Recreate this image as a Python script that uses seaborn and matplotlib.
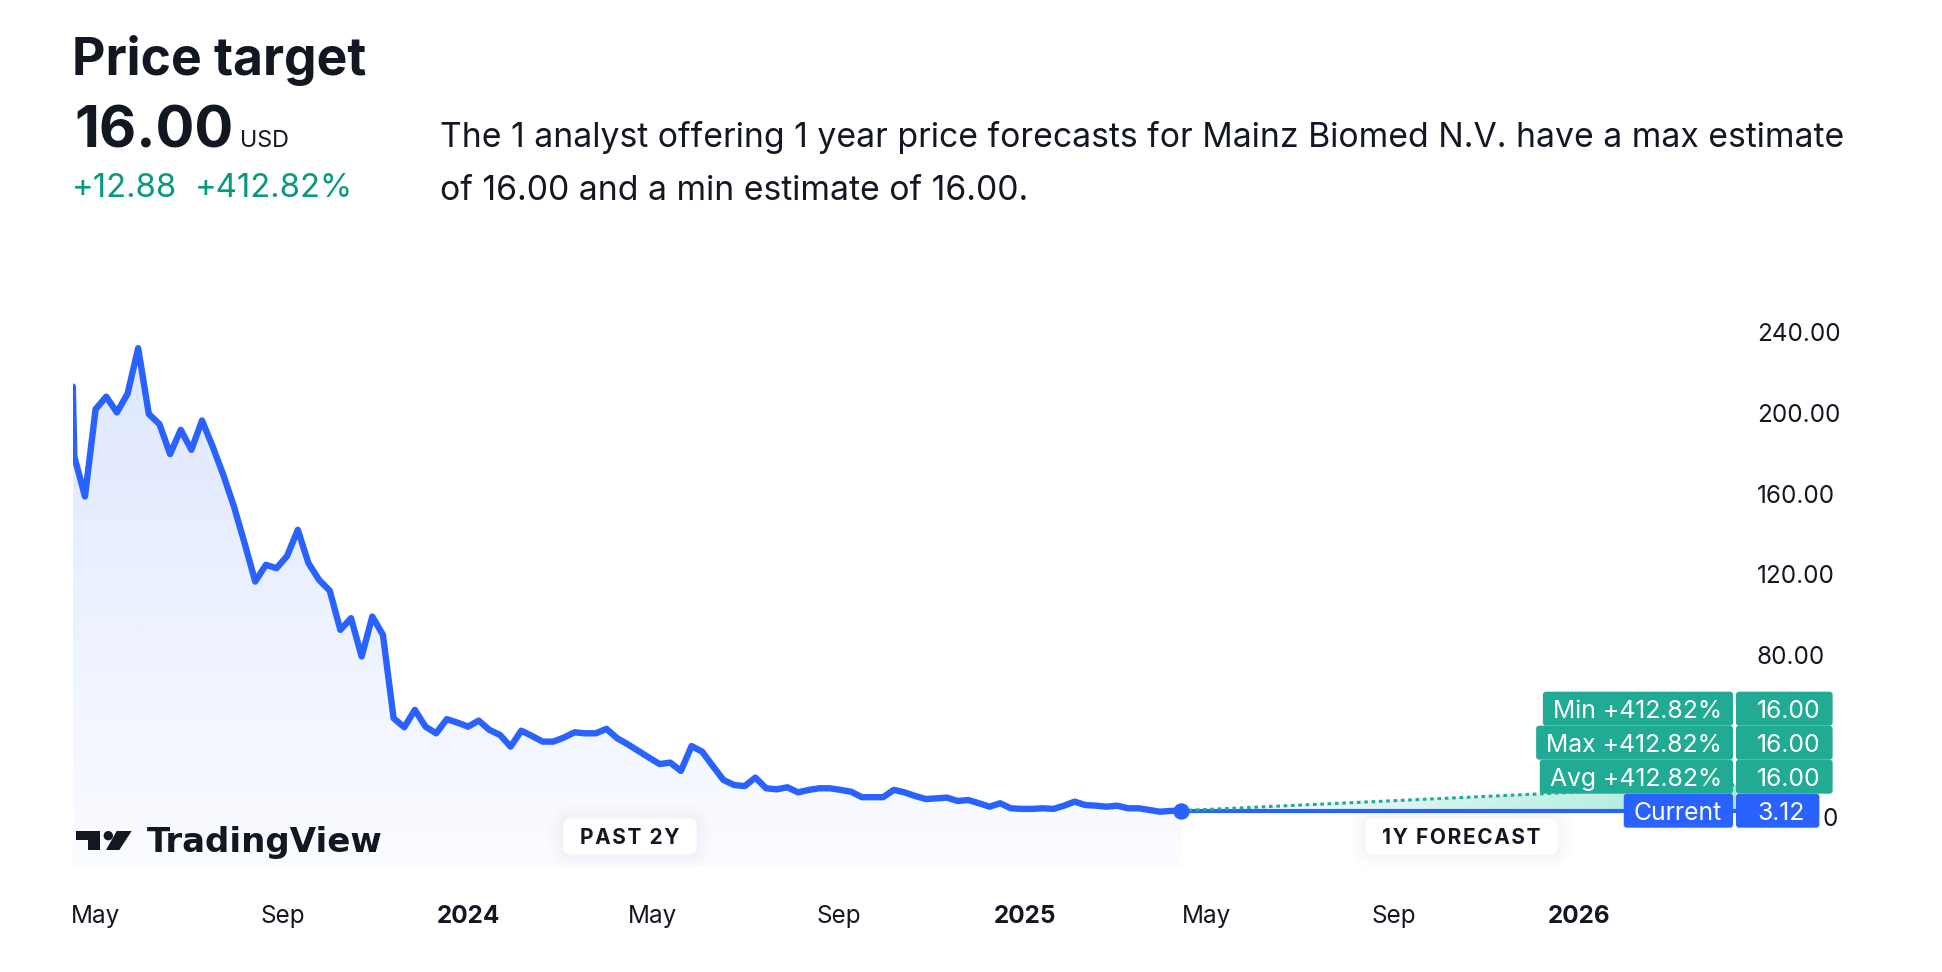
import matplotlib
matplotlib.use("Agg")
import numpy as np
import pandas as pd
import seaborn as sns
from matplotlib import pyplot as plt
import matplotlib.dates as mdates
from matplotlib.patches import FancyBboxPatch, Rectangle, Circle, Polygon
from matplotlib.transforms import IdentityTransform
from matplotlib.colors import to_rgb

# ---- data ----
first_date = "2023-04-16"
first_price = 213.0
week_start = "2023-04-17"
weekly_prices = [
    178.4, 158.6, 201.8, 208.0, 200.2, 209.4, 232.0, 199.4, 194.4, 179.6,
    191.6, 181.7, 196.2, 183.3, 169.3, 153.6, 135.5, 116.5, 124.8, 123.1,
    129.2, 142.1, 125.6, 117.3, 112.0, 92.6, 98.4, 79.4, 99.2, 90.1,
    48.9, 44.4, 53.0, 44.7, 41.4, 48.4, 46.7, 44.7, 47.7, 43.1,
    40.6, 34.8, 42.7, 40.1, 37.3, 37.3, 39.3, 41.9, 41.4, 41.4,
    43.6, 39.0, 36.0, 32.7, 29.4, 26.2, 26.9, 22.8, 35.1, 32.3,
    25.2, 18.3, 15.8, 15.3, 19.5, 14.2, 13.7, 14.7, 12.2, 13.4,
    14.2, 14.2, 13.4, 12.5, 9.8, 9.8, 9.8, 13.4, 12.2, 10.4,
    8.9, 9.2, 9.6, 7.9, 8.4, 6.8, 5.1, 6.8, 4.3, 4.0,
    4.0, 4.3, 4.0, 5.6, 7.6, 5.9, 5.6, 5.1, 5.6, 4.3,
    4.3, 3.5, 2.6, 3.0, 3.12,
]
target_names = ["Min", "Max", "Avg"]
target_values = [16.00, 16.00, 16.00]
tick_dates = ["2023-05-01", "2023-09-01", "2024-01-01", "2024-05-01", "2024-09-01",
              "2025-01-01", "2025-05-01", "2025-09-01", "2026-01-01"]
tick_labels = ["May", "Sep", "2024", "May", "Sep", "2025", "May", "Sep", "2026"]
y_ticks = [0, 40, 80, 120, 160, 200, 240]
company = "Mainz Biomed N.V."
n_analysts = 1

blue = "#2962ff"
teal = "#22ab94"
green_txt = "#089981"
ink = "#131722"

sns.set_theme(style="white")
plt.rcParams["font.family"] = ["Inter", "DejaVu Sans"]

dates = [pd.Timestamp(first_date)] + list(pd.date_range(week_start, periods=len(weekly_prices), freq="7D"))
df = pd.DataFrame({"date": dates, "price": [first_price] + weekly_prices})
current = weekly_prices[-1]
avg_target = target_values[2]
end_date = df["date"].iloc[-1] + pd.DateOffset(years=1)
change = avg_target - current
change_pct = change / current * 100

W, H = 1942, 972
fig = plt.figure(figsize=(W / 100, H / 100), dpi=100)
fig.patch.set_facecolor("white")


def fx(x):
    return x / W


def fy(y):
    return 1 - y / H


ax = fig.add_axes([fx(72.8), fy(867.5), fx(1736) - fx(72.8), fy(311.8) - fy(867.5)])
ax.set_facecolor("none")

base = -25
xn = mdates.date2num(df["date"])
x_end = mdates.date2num(end_date)

sns.lineplot(data=df, x="date", y="price", ax=ax, color=blue, lw=4.6, zorder=5,
             solid_joinstyle="round")

# gradient under the history
area = ax.fill_between(xn, df["price"], base, facecolor="none", edgecolor="none")
ramp = np.zeros((256, 1, 4))
ramp[..., :3] = to_rgb(blue)
ramp[..., 3] = np.linspace(0.02, 0.16, 256)[:, None]
img = ax.imshow(ramp, extent=[xn[0], xn[-1], base, 240], origin="lower",
                aspect="auto", interpolation="bilinear", zorder=1)
img.set_clip_path(area.get_paths()[0], transform=ax.transData)

# forecast wedge
tri = Polygon([[xn[-1], current], [x_end, avg_target], [x_end, current]],
              closed=True, facecolor="none", edgecolor="none")
ax.add_patch(tri)
hramp = np.zeros((1, 256, 4))
hramp[..., :3] = to_rgb("#a6e9d9")
hramp[..., 3] = np.linspace(0.0, 1.0, 256)[None, :]
img2 = ax.imshow(hramp, extent=[xn[-1], x_end, current, avg_target], origin="lower",
                 aspect="auto", interpolation="bilinear", zorder=2)
img2.set_clip_path(tri)

ax.plot([xn[-1], x_end], [current, current], color=blue, lw=3, zorder=4)
ax.plot([xn[-1], x_end], [current, avg_target], color=teal, lw=2.2,
        ls=(0, (1.2, 1.2)), zorder=4)
ax.plot([xn[-1]], [current], "o", ms=10.8, color=blue, zorder=6)

ax.set_xlim(xn[0], x_end)
ax.set_ylim(base, 250)
ax.set_xticks(mdates.date2num(pd.to_datetime(tick_dates)))
ax.set_xticklabels(tick_labels)
for lab in ax.get_xticklabels():
    if lab.get_text().isdigit():
        lab.set_fontweight("bold")
ax.yaxis.tick_right()
ax.set_yticks(y_ticks)
# 0 and 40 sit under the price badges
ax.set_yticklabels(["" if v < 80 else f"{v:.2f}" for v in y_ticks])
ax.tick_params(axis="both", length=0, labelsize=17.5, labelcolor=ink)
ax.tick_params(axis="x", pad=27)
ax.tick_params(axis="y", pad=15)
ax.set_xlabel("")
ax.set_ylabel("")
ax.grid(False)
sns.despine(ax=ax, left=True, bottom=True)

fig.canvas.draw()
rend = fig.canvas.get_renderer()
ident = IdentityTransform()

# ---- price badges on the right axis ----
ax_right = ax.get_window_extent().x1
y_cur = ax.transData.transform((0, current))[1]
y_tgt = ax.transData.transform((0, avg_target))[1]
row = 34
fs_badge = 17.8
cap = 0.727 * fs_badge * 100 / 72


def badge(label, value, yc, color, tail):
    t = fig.text(ax_right - 14, yc - cap / 2, label, transform=ident, ha="right",
                 va="baseline", color="white", fontsize=fs_badge, zorder=11)
    e = t.get_window_extent(rend)
    fig.add_artist(FancyBboxPatch((e.x0 - 10, yc - row / 2), ax_right - 3 - (e.x0 - 10), row,
                                  boxstyle="round,pad=0,rounding_size=3", transform=ident,
                                  fc=color, ec="none", zorder=10))
    v = fig.text(ax_right + 21, yc - cap / 2, value, transform=ident, ha="left",
                 va="baseline", color="white", fontsize=fs_badge, zorder=11)
    e2 = v.get_window_extent(rend)
    fig.add_artist(FancyBboxPatch((ax_right, yc - row / 2), e2.x1 + tail - ax_right, row,
                                  boxstyle="round,pad=0,rounding_size=3", transform=ident,
                                  fc=color, ec="none", zorder=10))
    return e2.x1 + tail


cur_right = badge("Current", f"{current:.2f}", y_cur, blue, 15)
yc = max(y_tgt, y_cur + row)
for name, val in zip(reversed(target_names), reversed(target_values)):
    badge(f"{name} +{(val / current - 1) * 100:.2f}%", f"{val:.2f}", yc, teal, 12)
    yc += row
y_zero = ax.transData.transform((0, 0))[1]
fig.text(cur_right + 3, y_zero - cap / 2, "0", transform=ident, ha="left", va="baseline",
         color=ink, fontsize=17.5, zorder=11)

# ---- period pills ----
x_a = ax.transData.transform((xn[0], 0))[0]
x_b = ax.transData.transform((xn[-1], 0))[0]
x_c = ax.transData.transform((x_end, 0))[0]
pill_y = y_zero - 19.5
fs_pill = 15
pcap = 0.727 * fs_pill * 100 / 72
for text, xc in [("PAST 2Y", (x_a + x_b) / 2 + 3), ("1Y FORECAST", (x_b + x_c) / 2 + 3)]:
    t = fig.text(xc, pill_y - pcap / 2, "\u200a".join(text), transform=ident, ha="center",
                 va="baseline", color=ink, fontsize=fs_pill, fontweight="bold", zorder=13)
    e = t.get_window_extent(rend)
    for k, a in [(14, 0.012), (9, 0.02), (4, 0.03)]:
        fig.add_artist(FancyBboxPatch((e.x0 - 17 - k, pill_y - 18 - k), e.width + 34 + 2 * k, 36 + 2 * k,
                                      boxstyle=f"round,pad=0,rounding_size={8 + k}", transform=ident,
                                      fc="#8a8fa0", ec="none", alpha=a, zorder=11))
    fig.add_artist(FancyBboxPatch((e.x0 - 17, pill_y - 18), e.width + 34, 36,
                                  boxstyle="round,pad=0,rounding_size=8", transform=ident,
                                  fc="white", ec="none", zorder=12))

# ---- TradingView mark ----
for patch in [Rectangle((76, H - 840), 24, 9), Rectangle((88.3, H - 850), 11.7, 19),
              Circle((108.3, H - 835.7), 4.7),
              Polygon([(116.7, H - 831), (131.7, H - 831), (119.3, H - 850), (106, H - 850)])]:
    patch.set_transform(ident)
    patch.set_facecolor(ink)
    patch.set_edgecolor("none")
    patch.set_zorder(12)
    fig.add_artist(patch)
fig.text(fx(147), fy(852), "TradingView", ha="left", va="baseline", fontsize=24.5,
         fontweight="bold", family="DejaVu Sans", color=ink, zorder=12)

# ---- header ----
fig.text(fx(72), fy(75), "Price target", ha="left", va="baseline", fontsize=37.2,
         fontweight="bold", color=ink)
fig.text(fx(74), fy(147), f"{avg_target:.2f}", ha="left", va="baseline", fontsize=41.5,
         fontweight="bold", color=ink)
fig.text(fx(240), fy(147), "USD", ha="left", va="baseline", fontsize=16.8, color=ink)
fig.text(fx(72), fy(197), f"+{change:.2f}", ha="left", va="baseline", fontsize=23.6,
         color=green_txt)
fig.text(fx(195), fy(197), f"+{change_pct:.2f}%", ha="left", va="baseline", fontsize=23.6,
         color=green_txt)
line1 = (f"The {n_analysts} analyst offering 1 year price forecasts for {company} "
         f"have a max estimate")
line2 = f"of {max(target_values):.2f} and a min estimate of {min(target_values):.2f}."
fig.text(fx(440), fy(146.7), line1, ha="left", va="baseline", fontsize=24.3, color=ink)
fig.text(fx(440), fy(200), line2, ha="left", va="baseline", fontsize=24.3, color=ink)

fig.savefig("out.png", dpi=100, facecolor="white")
